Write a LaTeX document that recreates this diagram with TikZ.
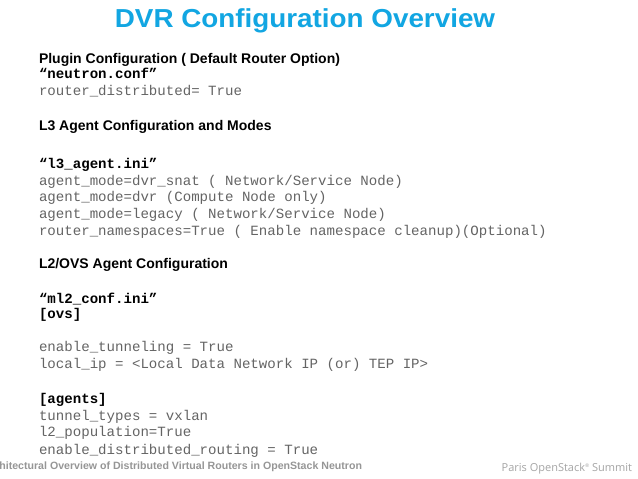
\documentclass[tikz,border=0pt]{standalone}
\usepackage{fontspec}
\setmainfont{Liberation Sans}
\newfontfamily\hfont{Liberation Sans}
\newfontfamily\mfont{Liberation Mono}
\newfontfamily\pfont{Open Sans}
\definecolor{titleblue}{RGB}{18,166,226}
\definecolor{codegray}{RGB}{100,100,100}
\definecolor{footgray}{RGB}{150,150,150}
\definecolor{parisgray}{RGB}{165,165,165}
\begin{document}
\begin{tikzpicture}[x=1pt,y=-1pt,
  every node/.style={inner sep=0pt,outer sep=0pt},
  titletext/.style={anchor=base,text=titleblue,font=\hfont\bfseries\fontsize{26}{30}\selectfont},
  headtext/.style={anchor=base west,text=black,font=\hfont\bfseries\fontsize{14}{17}\selectfont},
  filetext/.style={anchor=base west,text=black,font=\mfont\bfseries\fontsize{14.1}{17}\selectfont},
  codetext/.style={anchor=base west,text=codegray,font=\mfont\fontsize{14.1}{17}\selectfont},
  foottext/.style={anchor=base east,text=footgray,font=\hfont\bfseries\fontsize{10.6}{12}\selectfont},
  paristext/.style={anchor=base west,text=parisgray,font=\pfont\fontsize{11}{13}\selectfont}]
\useasboundingbox (0,0) rectangle (638,479);
\fill[white] (0,0) rectangle (638,479);
\node[titletext] (title) at (305,27.3) {\scalebox{1.07}[1]{DVR Configuration Overview}};
\node[headtext] (h1) at (39,63.5) {Plugin Configuration ( Default Router Option)};
\node[filetext] (f1) at (39,78.5) {“neutron.conf”};
\node[codetext] (c1) at (39,95.5) {router\_distributed= True};
\node[headtext] (h2) at (39,130.5) {L3 Agent Configuration and Modes};
\node[filetext] (f2) at (39,168.5) {“l3\_agent.ini”};
\node[codetext] (c2) at (39,185) {agent\_mode=dvr\_snat ( Network/Service Node)};
\node[codetext] (c3) at (39,201.7) {agent\_mode=dvr (Compute Node only)};
\node[codetext] (c4) at (39,218.3) {agent\_mode=legacy ( Network/Service Node)};
\node[codetext] (c5) at (39,235) {router\_namespaces=True ( Enable namespace cleanup)(Optional)};
\node[headtext] (h3) at (39,268.3) {L2/OVS Agent Configuration};
\node[filetext] (f3) at (39,303.3) {“ml2\_conf.ini”};
\node[filetext] (f4) at (39,318.3) {[ovs]};
\node[codetext] (c6) at (39,351.7) {enable\_tunneling = True};
\node[codetext] (c7) at (39,368.3) {local\_ip = <Local Data Network IP (or) TEP IP>};
\node[filetext] (f5) at (39,403.3) {[agents]};
\node[codetext] (c8) at (39,420) {tunnel\_types = vxlan};
\node[codetext] (c9) at (39,436.7) {l2\_population=True};
\node[codetext] (c10) at (39,454) {enable\_distributed\_routing = True};
\begin{scope}
\clip (0,0) rectangle (638,479);
\node[foottext] (foot) at (362,469) {Architectural Overview of Distributed Virtual Routers in OpenStack Neutron};
\end{scope}
\node[paristext] (paris) at (501.7,471.7) {Paris OpenStack\raisebox{0.35em}{\fontsize{5}{6}\selectfont®} Summit};
\end{tikzpicture}
\end{document}
